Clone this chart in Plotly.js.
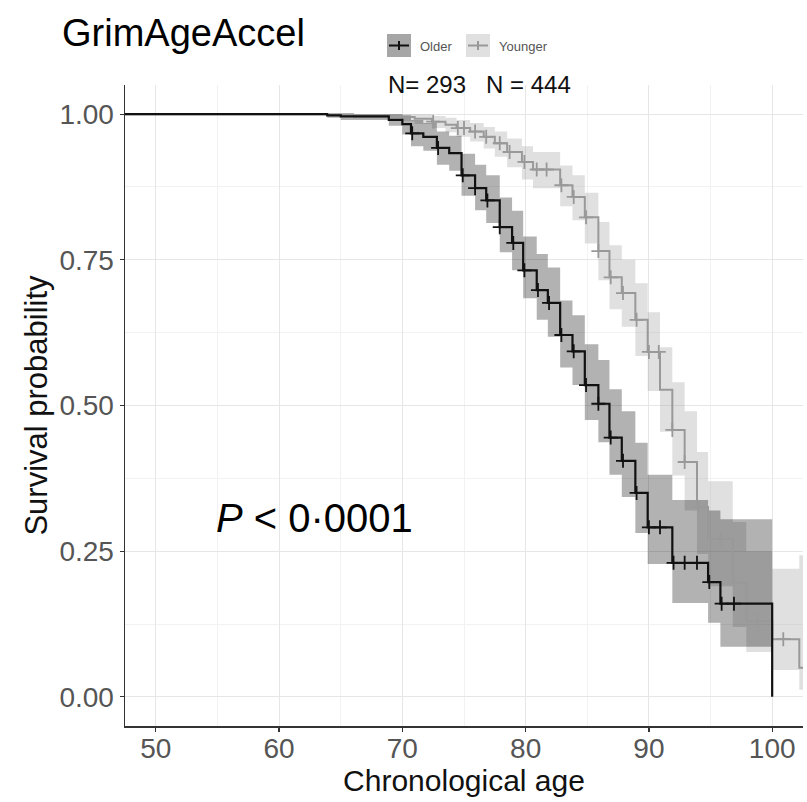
<!DOCTYPE html>
<html>
<head>
<meta charset="utf-8">
<script src="https://cdn.plot.ly/plotly-3.0.1.min.js"></script>
<style>html,body{margin:0;padding:0;background:#fff}#chart{width:807px;height:802px}</style>
</head>
<body>
<div id="chart"></div>
<script>
// ---------- data ----------
const groups = ["Older", "Younger"];
const groupN = [293, 444];

// Older: step times and survival after each step
const olderTime  = [47.5, 63.9, 65.0, 68.9, 70.0, 70.7, 71.7, 72.8, 73.8, 74.8, 75.9, 76.8, 77.9, 78.9, 79.8, 80.9, 81.8, 82.8, 83.8, 84.8, 85.9, 86.8, 87.8, 88.9, 89.9, 91.9, 94.8, 95.8, 100.0];
const olderSurv  = [1.000, 0.998, 0.996, 0.990, 0.983, 0.967, 0.961, 0.942, 0.933, 0.895, 0.873, 0.852, 0.806, 0.779, 0.732, 0.698, 0.676, 0.621, 0.593, 0.535, 0.503, 0.445, 0.405, 0.350, 0.291, 0.230, 0.197, 0.160, 0.000];
const olderUpper = [1.000, 1.000, 1.000, 1.000, 0.998, 0.990, 0.985, 0.970, 0.963, 0.932, 0.913, 0.895, 0.857, 0.834, 0.790, 0.760, 0.737, 0.680, 0.655, 0.605, 0.578, 0.528, 0.490, 0.436, 0.381, 0.338, 0.320, 0.305, null];
const olderLower = [1.000, 0.994, 0.990, 0.980, 0.965, 0.945, 0.937, 0.913, 0.903, 0.860, 0.835, 0.813, 0.763, 0.732, 0.684, 0.647, 0.618, 0.565, 0.535, 0.475, 0.437, 0.381, 0.343, 0.281, 0.228, 0.161, 0.127, 0.086, null];
const olderCensor = [70.8, 72.9, 74.9, 75.9, 76.9, 77.9, 79.0, 79.9, 81.0, 81.9, 82.9, 83.9, 84.9, 85.9, 86.9, 87.9, 89.0, 90.0, 90.9, 92.0, 92.9, 93.9, 94.9, 95.9, 96.9];

// Younger
const youngerTime  = [47.5, 66.0, 69.9, 71.0, 72.4, 73.5, 74.4, 75.5, 76.6, 77.5, 78.5, 79.7, 80.6, 82.8, 83.8, 84.8, 85.9, 86.8, 87.8, 88.9, 89.9, 90.9, 91.9, 92.9, 93.9, 94.8, 96.8, 97.9, 100.0, 102.2, 103.0];
const youngerSurv  = [1.000, 0.998, 0.995, 0.992, 0.987, 0.982, 0.976, 0.970, 0.961, 0.950, 0.935, 0.918, 0.905, 0.878, 0.858, 0.823, 0.765, 0.720, 0.693, 0.647, 0.592, 0.527, 0.458, 0.403, 0.326, 0.271, 0.196, 0.130, 0.099, 0.050, 0.050];
const youngerUpper = [1.000, 1.000, 1.000, 1.000, 0.997, 0.994, 0.990, 0.985, 0.978, 0.970, 0.958, 0.945, 0.935, 0.912, 0.895, 0.865, 0.815, 0.775, 0.750, 0.710, 0.660, 0.600, 0.540, 0.490, 0.420, 0.370, 0.300, 0.250, 0.220, 0.243, 0.243];
const youngerLower = [1.000, 0.993, 0.988, 0.983, 0.976, 0.969, 0.961, 0.953, 0.941, 0.927, 0.909, 0.888, 0.873, 0.842, 0.818, 0.778, 0.715, 0.665, 0.635, 0.585, 0.525, 0.455, 0.380, 0.320, 0.245, 0.190, 0.120, 0.077, 0.046, 0.012, 0.012];
const youngerCensor = [72.5, 74.5, 75.0, 75.9, 76.8, 77.9, 78.7, 79.9, 80.9, 81.7, 82.9, 83.9, 84.9, 85.9, 86.9, 87.9, 89.0, 90.0, 90.8, 91.9, 92.9, 94.0, 95.8, 96.9, 98.8, 100.9];

const xTicks = [50, 60, 70, 80, 90, 100];
const yTicks = [0, 0.25, 0.5, 0.75, 1];
const yTickText = ["0.00", "0.25", "0.50", "0.75", "1.00"];
const pText = "<i>P</i> < 0·0001";

// ---------- helpers ----------
function stepAt(times, surv, t) {
  let v = surv[0];
  for (let i = 0; i < times.length; i++) { if (times[i] <= t) v = surv[i]; }
  return v;
}
function bandXY(times, arr) {
  const xs = [], ys = [];
  for (let i = 0; i < times.length; i++) {
    if (arr[i] === null) { xs.push(times[i]); ys.push(arr[i - 1]); break; }
    xs.push(times[i]); ys.push(arr[i]);
  }
  return [xs, ys];
}

const olderCol = "#111111", youngerCol = "#999999";
const olderFill = "rgba(0,0,0,0.30)", youngerFill = "rgba(153,153,153,0.30)";

function bandTraces(times, up, lo, fill) {
  const [xl, yl] = bandXY(times, lo);
  const [xu, yu] = bandXY(times, up);
  return [
    {x: xl, y: yl, type: "scatter", mode: "lines", line: {width: 0, shape: "hv"}, showlegend: false, hoverinfo: "skip"},
    {x: xu, y: yu, type: "scatter", mode: "lines", line: {width: 0, shape: "hv"}, fill: "tonexty", fillcolor: fill, showlegend: false, hoverinfo: "skip"}
  ];
}

const traces = [];
traces.push(...bandTraces(youngerTime, youngerUpper, youngerLower, youngerFill));
traces.push(...bandTraces(olderTime, olderUpper, olderLower, olderFill));
traces.push({x: youngerTime, y: youngerSurv, type: "scatter", mode: "lines", line: {color: youngerCol, width: 2, shape: "hv"}, name: groups[1], showlegend: false});
traces.push({x: olderTime, y: olderSurv, type: "scatter", mode: "lines", line: {color: olderCol, width: 2.2, shape: "hv"}, name: groups[0], showlegend: false});
traces.push({x: youngerCensor, y: youngerCensor.map(t => stepAt(youngerTime, youngerSurv, t)), type: "scatter", mode: "markers",
  marker: {symbol: "cross-thin", size: 10, line: {width: 1.8, color: youngerCol}, color: youngerCol}, showlegend: false});
traces.push({x: olderCensor, y: olderCensor.map(t => stepAt(olderTime, olderSurv, t)), type: "scatter", mode: "markers",
  marker: {symbol: "cross-thin", size: 10, line: {width: 1.8, color: olderCol}, color: olderCol}, showlegend: false});

// pixel -> paper coordinates (plot area: x 125..803, y 85..726)
const L = 125, R = 4, T = 85, B = 76, W = 807, H = 802;
const pw = W - L - R, ph = H - T - B;
const px = v => (v - L) / pw;
const py = v => (H - B - v) / ph;

const shapes = [
  {type: "rect", xref: "paper", yref: "paper", x0: px(387), x1: px(411), y0: py(57), y1: py(34), fillcolor: "#a6a6a6", line: {width: 0}},
  {type: "line", xref: "paper", yref: "paper", x0: px(389), x1: px(409), y0: py(45.5), y1: py(45.5), line: {color: olderCol, width: 2}},
  {type: "line", xref: "paper", yref: "paper", x0: px(399), x1: px(399), y0: py(41), y1: py(50), line: {color: olderCol, width: 2}},
  {type: "rect", xref: "paper", yref: "paper", x0: px(466), x1: px(490), y0: py(57), y1: py(34), fillcolor: "#e0e0e0", line: {width: 0}},
  {type: "line", xref: "paper", yref: "paper", x0: px(468), x1: px(488), y0: py(45.5), y1: py(45.5), line: {color: youngerCol, width: 2}},
  {type: "line", xref: "paper", yref: "paper", x0: px(478), x1: px(478), y0: py(41), y1: py(50), line: {color: youngerCol, width: 2}}
];

const annotations = [
  {xref: "paper", yref: "paper", x: px(418), y: py(46), xanchor: "left", yanchor: "middle", text: groups[0], showarrow: false, font: {family: "Liberation Sans, Arial", size: 13, color: "#555"}},
  {xref: "paper", yref: "paper", x: px(497), y: py(46), xanchor: "left", yanchor: "middle", text: groups[1], showarrow: false, font: {family: "Liberation Sans, Arial", size: 13, color: "#555"}},
  {xref: "paper", yref: "paper", x: px(386), y: py(84), xanchor: "left", yanchor: "middle", text: "N= " + groupN[0] + "   N = " + groupN[1], showarrow: false, font: {family: "Liberation Sans, Arial", size: 24, color: "#111"}},
  {xref: "x", yref: "y", x: 54.7, y: 0.307, xanchor: "left", yanchor: "middle", text: pText, showarrow: false, font: {family: "Liberation Sans, Arial", size: 40, color: "#000"}}
];

const axisCommon = {
  showline: true, linecolor: "#333", linewidth: 1.5, mirror: false, zeroline: false,
  ticks: "outside", ticklen: 4, tickcolor: "#333", tickwidth: 1.2,
  showgrid: true, gridcolor: "#e6e6e6", gridwidth: 1,
  tickfont: {family: "Liberation Sans, Arial", size: 28, color: "#555"}
};

const layout = {
  width: W, height: H,
  margin: {l: L, r: R, t: T, b: B},
  paper_bgcolor: "#fff", plot_bgcolor: "#fff",
  showlegend: false,
  title: {text: "GrimAgeAccel", x: 62 / W, xanchor: "left", xref: "container", y: 1 - 33 / H, yanchor: "middle", yref: "container",
    font: {family: "Liberation Sans, Arial", size: 38, color: "#000"}},
  xaxis: Object.assign({}, axisCommon, {
    range: [47.5, 102.5], tickvals: xTicks, ticktext: xTicks.map(String),
    ticklabelstandoff: -7,
    minor: {dtick: 5, tick0: 0, showgrid: true, gridcolor: "#f2f2f2", gridwidth: 1, ticks: ""},
    title: {text: "Chronological age", standoff: 0, font: {family: "Liberation Sans, Arial", size: 30, color: "#111"}}
  }),
  yaxis: Object.assign({}, axisCommon, {
    range: [-0.05, 1.05], tickvals: yTicks, ticktext: yTickText,
    minor: {dtick: 0.125, tick0: 0, showgrid: true, gridcolor: "#f2f2f2", gridwidth: 1, ticks: ""},
    title: {text: "Survival probability", standoff: 2, font: {family: "Liberation Sans, Arial", size: 31, color: "#111"}}
  }),
  shapes: shapes,
  annotations: annotations
};

Plotly.newPlot("chart", traces, layout, {staticPlot: true, displayModeBar: false});
</script>
</body>
</html>
